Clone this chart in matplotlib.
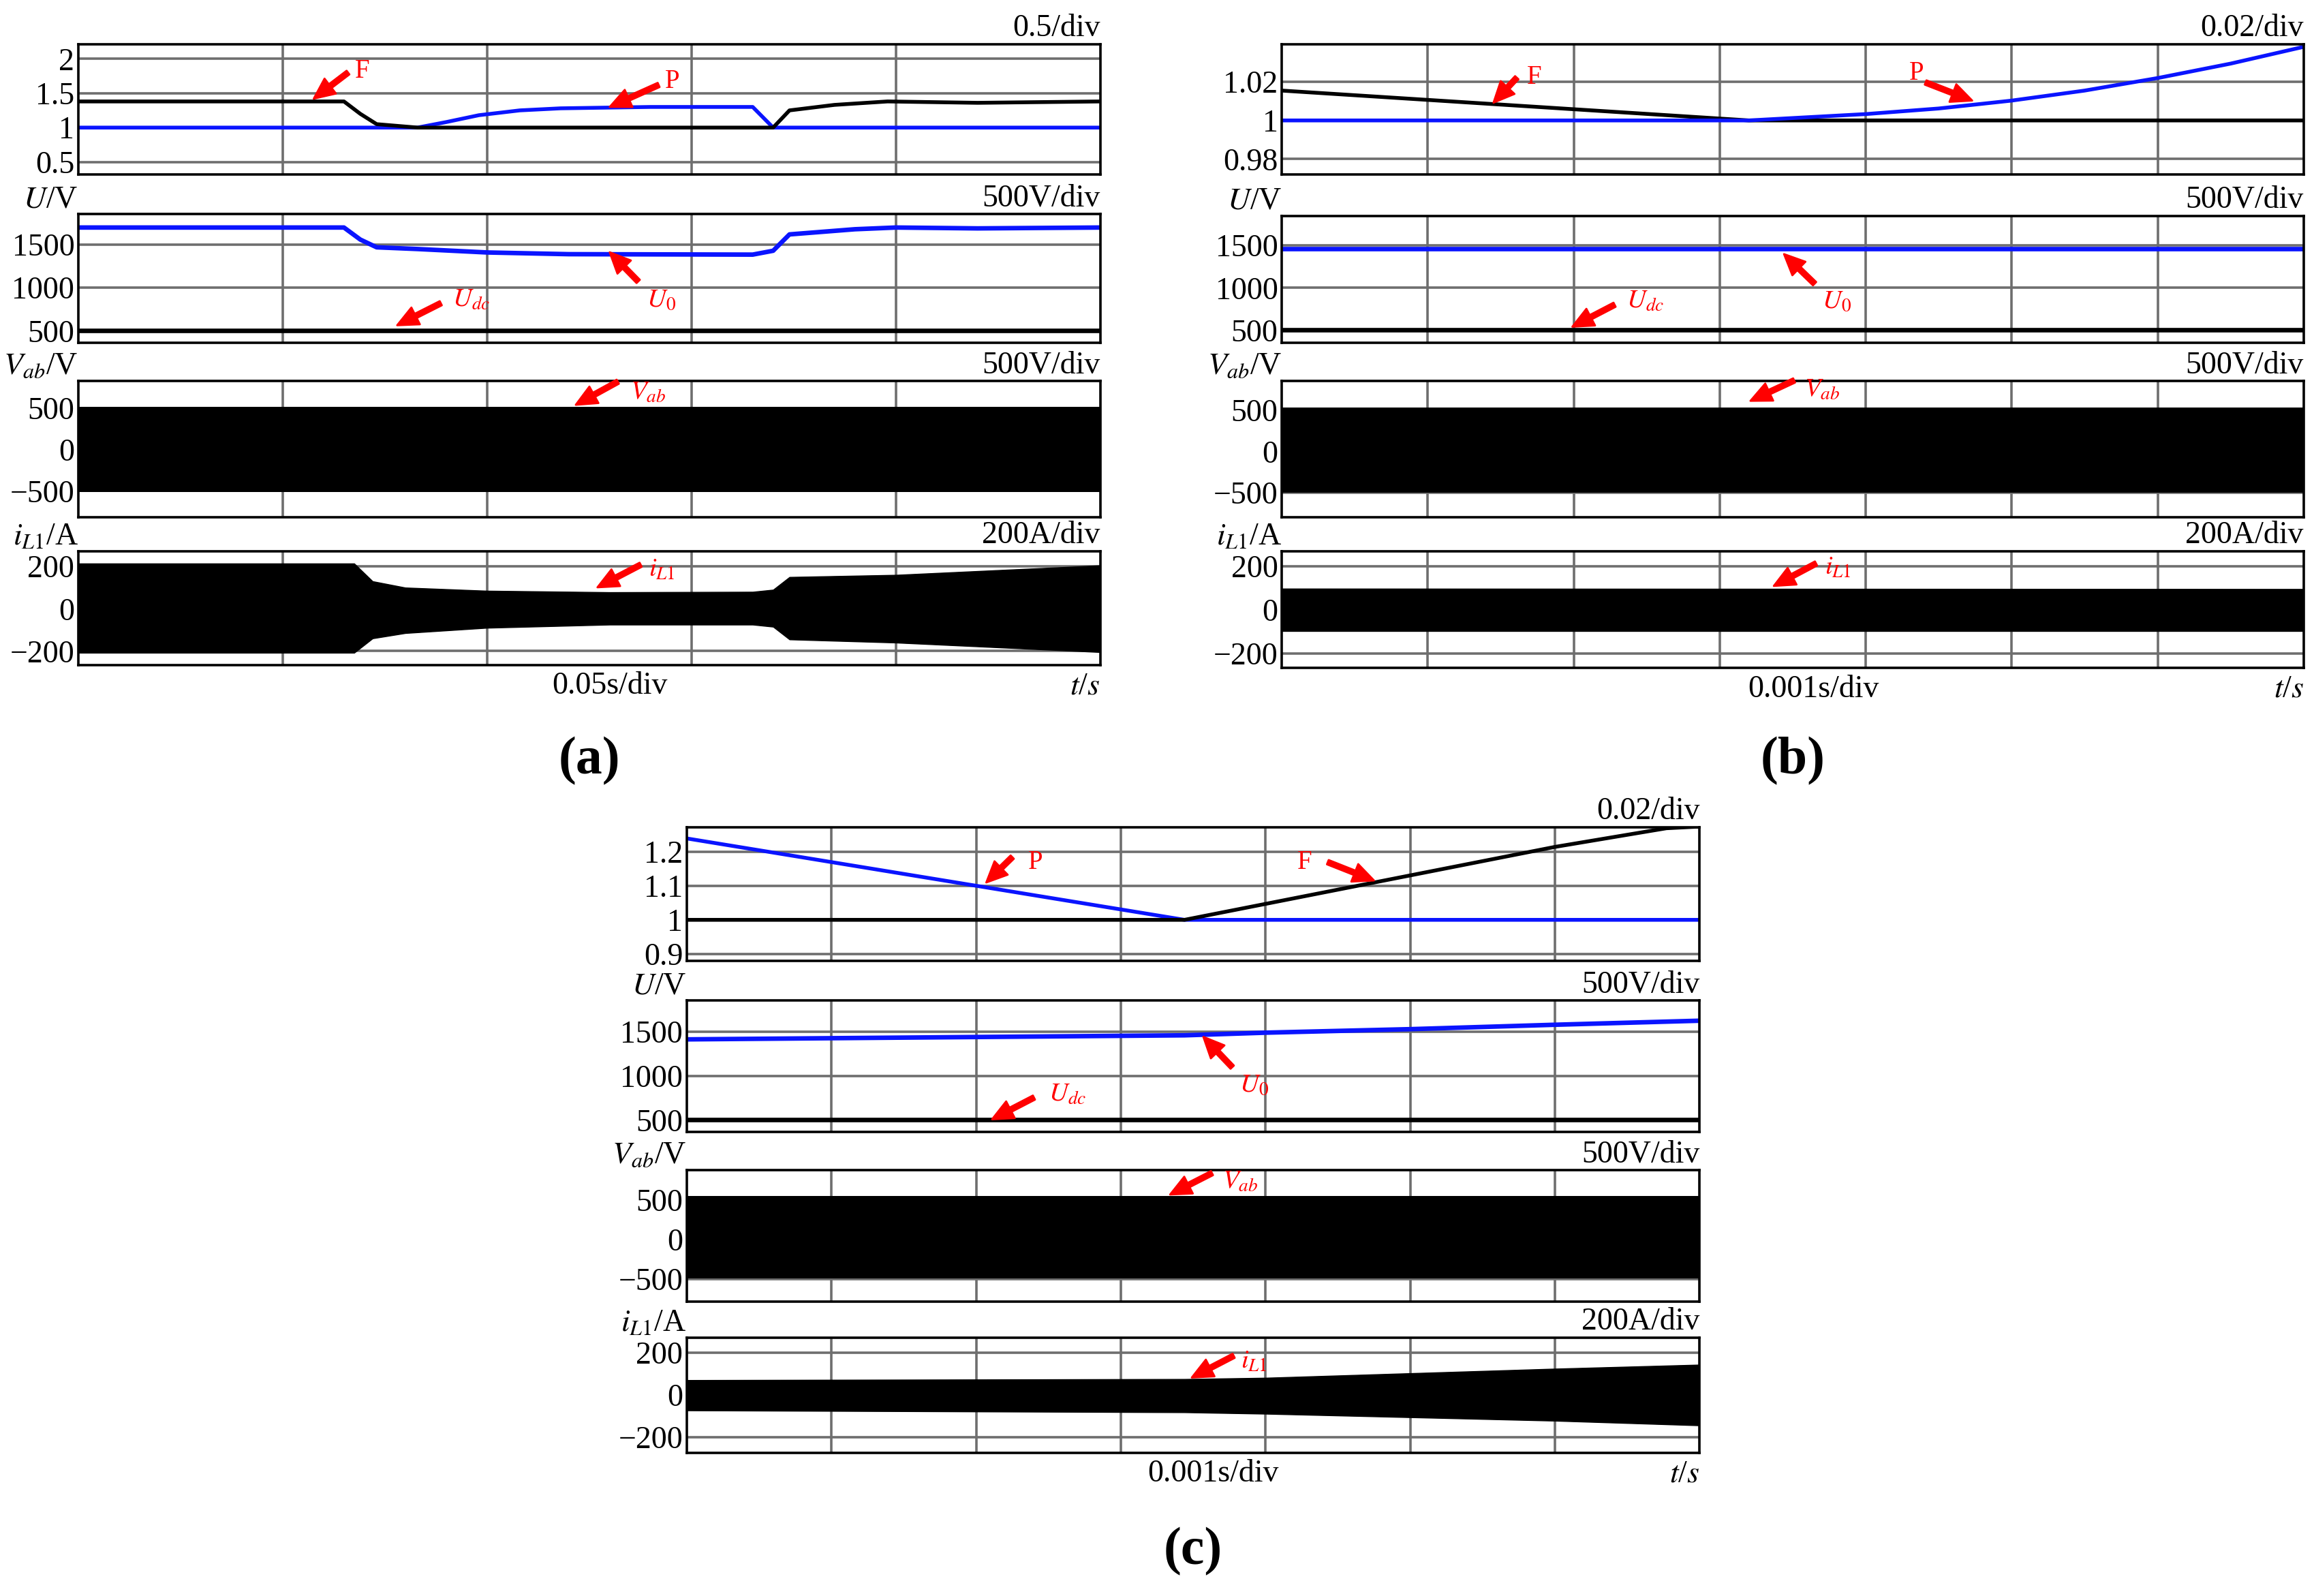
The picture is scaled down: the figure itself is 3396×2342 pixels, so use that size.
import matplotlib
matplotlib.use("Agg")
import matplotlib.pyplot as plt

plt.rcParams['font.family'] = ['Liberation Serif', 'DejaVu Serif']
plt.rcParams['mathtext.fontset'] = 'stix'

# ---------------- panel (a): 0..0.25 s ----------------
a_t_F = [0, 0.065, 0.069, 0.073, 0.083, 0.17, 0.174, 0.185, 0.198, 0.22, 0.25]
a_F = [1.38, 1.38, 1.2, 1.05, 1.0, 1.0, 1.25, 1.33, 1.38, 1.36, 1.38]
a_t_P = [0, 0.083, 0.09, 0.098, 0.108, 0.118, 0.14, 0.165, 0.17, 0.25]
a_P = [1.0, 1.0, 1.08, 1.18, 1.25, 1.28, 1.3, 1.3, 1.0, 1.0]
a_t_U0 = [0, 0.065, 0.069, 0.073, 0.083, 0.1, 0.12, 0.165, 0.17, 0.174, 0.19, 0.2, 0.22, 0.25]
a_U0 = [1700, 1700, 1560, 1470, 1450, 1410, 1390, 1385, 1430, 1620, 1680, 1700, 1690, 1700]
a_t_env = [0, 0.0675, 0.072, 0.08, 0.1, 0.13, 0.165, 0.17, 0.174, 0.2, 0.25]
a_i_top = [214, 214, 130, 100, 85, 78, 80, 90, 150, 160, 205]
a_i_bot = [-208, -208, -140, -115, -90, -75, -75, -85, -145, -160, -205]
a_vab = [510, -510]

# ---------------- panel (b): 0..7 ms ----------------
b_t_F = [0, 3.2, 7]
b_F = [1.0155, 1.0, 1.0]
b_t_P = [0, 3.2, 4.0, 4.5, 5.0, 5.5, 6.0, 6.5, 7.0]
b_P = [1.0, 1.0, 1.0033, 1.0062, 1.0103, 1.0155, 1.022, 1.0295, 1.0382]
b_t_U0 = [0, 7]
b_U0 = [1460, 1460]
b_t_env = [0, 7]
b_i_top = [97, 95]
b_i_bot = [-97, -97]
b_vab = [530, -500]

# ---------------- panel (c): 0..7 ms ----------------
c_t_P = [0, 3.44, 7]
c_P = [1.24, 1.0, 1.0]
c_t_F = [0, 3.44, 6.0, 6.77, 7]
c_F = [1.0, 1.0, 1.215, 1.27, 1.275]
c_t_U0 = [0, 3.44, 4, 5, 6, 7]
c_U0 = [1414, 1460, 1490, 1530, 1580, 1626]
c_t_env = [0, 3.44, 4, 6, 7]
c_i_top = [69, 74, 80, 123, 142]
c_i_bot = [-74, -83, -90, -123, -145]
c_vab = [550, -490]

BLUE = '#0a14ff'
GRID = '#6e6e6e'
FS = 16.5


def arrow(ax, tip, tail, label, lpos, fs=14):
    ax.annotate('', xy=tip, xytext=tail,
                arrowprops=dict(facecolor='red', edgecolor='red', width=2.5,
                                headwidth=10, headlength=11))
    ax.text(lpos[0], lpos[1], label, color='red', fontsize=fs, ha='left', va='center')


def style(ax, xmax, ndiv, ylim, yticks, yticklabels, scale, unit):
    ax.set_xlim(0, xmax)
    ax.set_ylim(*ylim)
    ax.set_xticks([xmax / ndiv * k for k in range(1, ndiv)])
    ax.set_xticklabels([])
    ax.set_yticks(yticks)
    ax.set_yticklabels(yticklabels, fontsize=FS)
    ax.tick_params(length=0, pad=2)
    ax.grid(True, color=GRID, lw=1.3, zorder=0)
    ax.set_axisbelow(True)
    for s in ax.spines.values():
        s.set_linewidth(1.3)
    ax.text(1.0, 1.01, scale, transform=ax.transAxes, ha='right', va='bottom', fontsize=FS)
    if unit:
        ax.text(0.0, 1.0, unit, transform=ax.transAxes, ha='right', va='bottom', fontsize=FS)


def panel(x0, x1, rows, xmax, ndiv, top, U0, env, vab, ann, xlab, plab):
    W, H = 1567.0, 1080.0
    axs = []
    for (ya, yb) in rows:
        axs.append(fig.add_axes([x0 / W, 1 - yb / H, (x1 - x0) / W, (yb - ya) / H]))
    ax1, ax2, ax3, ax4 = axs
    (tF, F, tP, P, ylim1, yt1, ytl1, sc1, first) = top
    if first == 'F':
        ax1.plot(tF, F, color='black', lw=2)
        ax1.plot(tP, P, color=BLUE, lw=2)
    else:
        ax1.plot(tP, P, color=BLUE, lw=2)
        ax1.plot(tF, F, color='black', lw=2)
    style(ax1, xmax, ndiv, ylim1, yt1, ytl1, sc1, None)
    ax2.plot([0, xmax], [500, 500], color='black', lw=2.4)
    ax2.plot(U0[0], U0[1], color=BLUE, lw=2.4)
    style(ax2, xmax, ndiv, U0[2], [500, 1000, 1500], ['500', '1000', '1500'],
          '500V/div', '$U$/V')
    ax3.fill_between([0, xmax], [vab[0], vab[0]], [vab[1], vab[1]], color='black', lw=0)
    style(ax3, xmax, ndiv, vab[2], [-500, 0, 500], ['\u2212500', '0', '500'],
          '500V/div', '$V_{ab}$/V')
    ax4.fill_between(env[0], env[1], env[2], color='black', lw=0.5)
    style(ax4, xmax, ndiv, env[3], [-200, 0, 200], ['\u2212200', '0', '200'],
          '200A/div', '$i_{L\\mathrm{1}}$/A')
    ax4.text(0.52, -0.06, xlab, transform=ax4.transAxes, ha='center', va='top', fontsize=FS)
    ax4.text(1.0, -0.06, '$t$/$s$', transform=ax4.transAxes, ha='right', va='top', fontsize=FS)
    fig.text((x0 + x1) / 2 / W, 1 - plab[1] / H, plab[0], ha='center', va='center',
             fontsize=28, fontweight='bold')
    for i, ax in enumerate(axs):
        for a in ann[i]:
            arrow(ax, *a)


fig = plt.figure(figsize=(16.98, 11.71), dpi=200)

panel(53, 745, [(30, 118), (145, 232), (258, 350), (373, 450)], 0.25, 5,
      (a_t_F, a_F, a_t_P, a_P, (0.32, 2.21), [0.5, 1, 1.5, 2], ['0.5', '1', '1.5', '2'],
       '0.5/div', 'P'),
      (a_t_U0, a_U0, (359, 1854)),
      (a_t_env, a_i_top, a_i_bot, (-266, 272)),
      (a_vab[0], a_vab[1], (-816, 821)),
      [[((0.0576, 1.42), (0.066, 1.8), 'F', (0.0676, 1.82)),
        ((0.13, 1.30), (0.142, 1.62), 'P', (0.1435, 1.67))],
       [((0.13, 1413), (0.137, 1073), '$U_0$', (0.139, 855)),
        ((0.078, 563), (0.0887, 820), '$U_{dc}$', (0.0915, 855))],
       [((0.1217, 537), (0.132, 816), '$V_{ab}$', (0.135, 684))],
       [((0.127, 101), (0.1376, 208), '$i_{L1}$', (0.1395, 184))]],
      '0.05s/div', ('(a)', 515))

panel(868, 1560, [(30, 118), (146, 232), (258, 350), (373, 452)], 7, 7,
      (b_t_F, b_F, b_t_P, b_P, (0.972, 1.0395), [0.98, 1.0, 1.02], ['0.98', '1', '1.02'],
       '0.02/div', 'F'),
      (b_t_U0, b_U0, (350, 1850)),
      (b_t_env, b_i_top, b_i_bot, (-266, 268)),
      (b_vab[0], b_vab[1], (-800, 850)),
      [[((1.45, 1.0092), (1.61, 1.0222), 'F', (1.68, 1.0225)),
        ((4.73, 1.0103), (4.41, 1.0197), 'P', (4.3, 1.0245))],
       [((3.44, 1398), (3.65, 1048), '$U_0$', (3.7, 840)),
        ((1.99, 540), (2.28, 800), '$U_{dc}$', (2.36, 840))],
       [((3.21, 612), (3.51, 860), '$V_{ab}$', (3.58, 745))],
       [((3.37, 109), (3.66, 212), '$i_{L1}$', (3.72, 192))]],
      '0.001s/div', ('(b)', 515))

panel(465, 1151, [(560, 650), (677, 766), (792, 881), (905, 983)], 7, 7,
      (c_t_F, c_F, c_t_P, c_P, (0.88, 1.272), [0.9, 1.0, 1.1, 1.2], ['0.9', '1', '1.1', '1.2'],
       '0.02/div', 'P'),
      (c_t_U0, c_U0, (362, 1856)),
      (c_t_env, c_i_top, c_i_bot, (-274, 271)),
      (c_vab[0], c_vab[1], (-790, 870)),
      [[((2.07, 1.11), (2.25, 1.185), 'P', (2.36, 1.17)),
        ((4.75, 1.116), (4.43, 1.17), 'F', (4.22, 1.17))],
       [((3.57, 1443), (3.77, 1098), '$U_0$', (3.82, 897)),
        ((2.11, 506), (2.4, 753), '$U_{dc}$', (2.5, 782))],
       [((3.34, 565), (3.63, 836), '$V_{ab}$', (3.7, 726))],
       [((3.49, 81), (3.78, 184), '$i_{L1}$', (3.83, 155))]],
      '0.001s/div', ('(c)', 1050))

fig.savefig('out.png', dpi=200, facecolor='white')
